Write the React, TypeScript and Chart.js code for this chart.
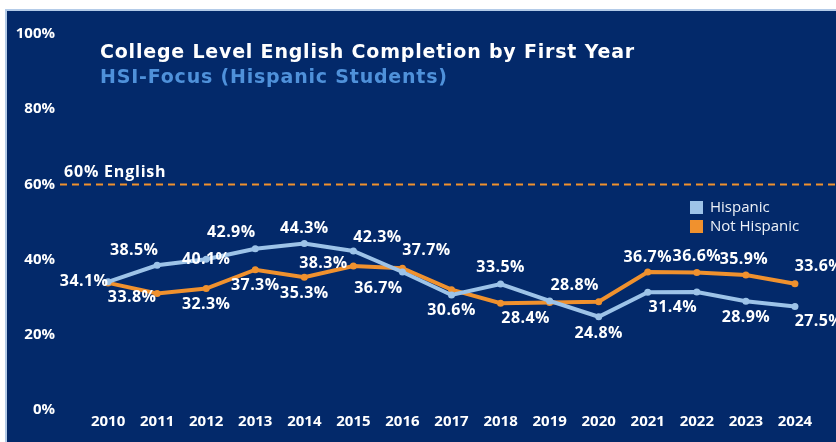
import React, { useEffect, useRef } from "react";
import { Chart, registerables } from "chart.js";

Chart.register(...registerables);

const YEARS = [2010, 2011, 2012, 2013, 2014, 2015, 2016, 2017, 2018, 2019, 2020, 2021, 2022, 2023, 2024];
const HISPANIC = [34.1, 38.5, 40.1, 42.9, 44.3, 42.3, 36.7, 30.6, 33.5, 29.0, 24.8, 31.3, 31.4, 28.9, 27.5];
const NOT_HISPANIC = [33.8, 31.0, 32.3, 37.3, 35.3, 38.3, 37.7, 32.0, 28.4, 28.6, 28.8, 36.7, 36.6, 35.9, 33.6];
const SERIES_NAMES = ["Hispanic", "Not Hispanic"];
const Y_TICKS = [0, 20, 40, 60, 80, 100];
const TARGET = 60;
const TARGET_LABEL = "60% English";
const TITLE = "College Level English Completion by First Year";
const SUBTITLE = "HSI-Focus (Hispanic Students)";

// label placement (offset of label centre from the point), null = no label
const HISPANIC_LABEL_OFFSETS: ([number, number] | null)[] = [
  [-24, 0], [-23, -15], [0, 0], [-24, -16], [0, -15], [24, -14], [-24, 16], [0, 15],
  [0, -17], null, [0, 17], null, [-24, 16], [0, 16], [24, 15],
];
const NOT_HISPANIC_LABEL_OFFSETS: ([number, number] | null)[] = [
  [24, 15], null, [0, 16], [0, 16], [0, 16], [-30, -3], [24, -18], null,
  [25, 15], null, [-24, -16], [0, -15], [0, -16], [-2, -16], [24, -17],
];

const NAVY = "#03296a";
const LIGHT_BLUE = "#9dc3e8";
const ORANGE = "#f0912e";
const FONT = "'Open Sans', 'DejaVu Sans', sans-serif";
const HEAVY_FONT = "'DejaVu Sans', 'Open Sans', sans-serif";

export default function App() {
  const ref = useRef<HTMLCanvasElement | null>(null);

  useEffect(() => {
    if (!ref.current) return;
    const offsets = [HISPANIC_LABEL_OFFSETS, NOT_HISPANIC_LABEL_OFFSETS];

    const decor = {
      id: "decor",
      beforeDatasetsDraw(chart: any) {
        const { ctx, chartArea, scales } = chart;
        const y = scales.y.getPixelForValue(TARGET);
        ctx.save();
        ctx.strokeStyle = ORANGE;
        ctx.lineWidth = 2;
        ctx.setLineDash([7, 5]);
        ctx.beginPath();
        ctx.moveTo(chartArea.left + 1, y);
        ctx.lineTo(chart.width, y);
        ctx.stroke();
        ctx.setLineDash([]);
        ctx.fillStyle = "#ffffff";
        ctx.font = `700 16px ${FONT}`;
        ctx.textAlign = "left";
        ctx.textBaseline = "middle";
        (ctx as any).letterSpacing = "0.8px";
        ctx.fillText(TARGET_LABEL, chartArea.left + 5, y - 12);
        // title
        ctx.font = `700 19px ${HEAVY_FONT}`;
        ctx.fillStyle = "#ffffff";
        ctx.fillText(TITLE, 100, 53);
        ctx.fillStyle = "#4f91da";
        ctx.fillText(SUBTITLE, 100, 78);
        (ctx as any).letterSpacing = "0px";
        // legend
        ctx.font = `400 15px ${FONT}`;
        chart.data.datasets.forEach((ds: any, i: number) => {
          const ly = 208 + i * 19;
          ctx.fillStyle = ds.borderColor;
          ctx.fillRect(690, ly - 7, 13, 13);
          ctx.fillStyle = "#eef2f8";
          ctx.fillText(ds.label, 710, ly);
        });
        ctx.restore();
      },
      afterDatasetsDraw(chart: any) {
        const { ctx } = chart;
        ctx.save();
        ctx.font = `700 16px ${FONT}`;
        (ctx as any).letterSpacing = "0.4px";
        ctx.fillStyle = "#ffffff";
        ctx.textAlign = "center";
        ctx.textBaseline = "middle";
        chart.data.datasets.forEach((ds: any, di: number) => {
          const meta = chart.getDatasetMeta(di);
          meta.data.forEach((pt: any, i: number) => {
            const off = offsets[di][i];
            if (!off) return;
            const v = ds.data[i].y;
            ctx.fillText(v.toFixed(1) + "%", pt.x + off[0], pt.y + off[1]);
          });
        });
        (ctx as any).letterSpacing = "0px";
        ctx.restore();
      },
    };

    const chart = new Chart(ref.current, {
      type: "line",
      data: {
        datasets: [
          {
            label: SERIES_NAMES[0],
            data: YEARS.map((x, i) => ({ x, y: HISPANIC[i] })),
            borderColor: LIGHT_BLUE,
            backgroundColor: LIGHT_BLUE,
            borderWidth: 4,
            pointRadius: 3.5,
            pointBorderWidth: 0,
            tension: 0,
          },
          {
            label: SERIES_NAMES[1],
            data: YEARS.map((x, i) => ({ x, y: NOT_HISPANIC[i] })),
            borderColor: ORANGE,
            backgroundColor: ORANGE,
            borderWidth: 4,
            pointRadius: 3.5,
            pointBorderWidth: 0,
            tension: 0,
          },
        ],
      },
      options: {
        animation: false,
        responsive: true,
        maintainAspectRatio: false,
        layout: { padding: { top: 34, right: 16, left: 0, bottom: 0 } },
        plugins: {
          legend: { display: false },
          tooltip: { enabled: false },
          title: { display: false },
        },
        scales: {
          x: {
            type: "linear",
            min: YEARS[0] - 1,
            max: YEARS[YEARS.length - 1] + 1,
            grid: { display: false, drawTicks: false },
            border: { display: false },
            afterBuildTicks: (axis: any) => {
              axis.ticks = YEARS.map((v) => ({ value: v }));
            },
            afterFit: (scale: any) => {
              scale.height = 32;
            },
            ticks: {
              autoSkip: false,
              maxRotation: 0,
              padding: 3,
              color: "#ffffff",
              font: { family: FONT, size: 15, weight: "bold" },
              callback: (v: any) => String(v),
            },
          },
          y: {
            min: 0,
            max: 100,
            grid: { display: false, drawTicks: false },
            border: { display: false },
            afterBuildTicks: (axis: any) => {
              axis.ticks = Y_TICKS.map((v) => ({ value: v }));
            },
            afterFit: (scale: any) => {
              scale.width = 59;
            },
            ticks: {
              padding: 4,
              color: "#ffffff",
              font: { family: FONT, size: 15, weight: "bold" },
              callback: (v: any) => v + "%",
            },
          },
        },
      },
      plugins: [decor],
    });
    return () => chart.destroy();
  }, []);

  return (
    <div
      style={{
        position: "fixed",
        left: 0,
        top: 0,
        width: 836,
        height: 442,
        overflow: "hidden",
        background: "#ffffff",
      }}
    >
      <div
        style={{
          position: "absolute",
          left: 5,
          top: 9,
          width: 900,
          height: 500,
          background: NAVY,
          borderLeft: "2px solid #b3cbe8",
          borderTop: "2px solid #b3cbe8",
        }}
      />
      <div style={{ position: "absolute", left: 0, top: 0, width: 860, height: 442 }}>
        <canvas ref={ref} />
      </div>
    </div>
  );
}
